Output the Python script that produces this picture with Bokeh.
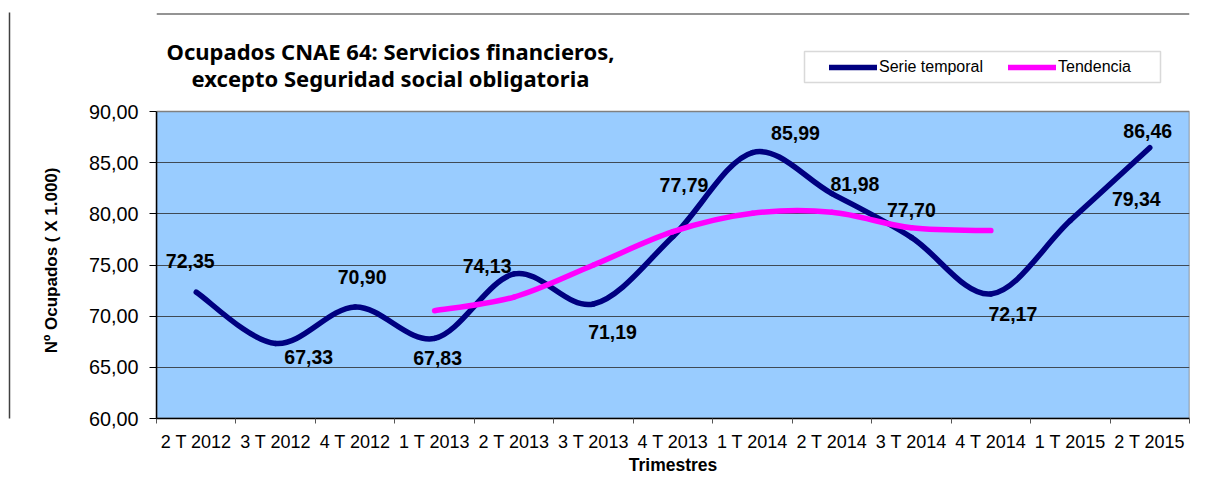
import numpy as np
from bokeh.plotting import figure
from bokeh.models import (Range1d, FixedTicker, Label, BoxAnnotation, Legend,
                          LegendItem, ColumnDataSource, Span, LinearAxis)
from bokeh.core.properties import value
from bokeh.embed import file_html
from bokeh.resources import INLINE

# ---------------- data ----------------
categories = ["2 T 2012", "3 T 2012", "4 T 2012", "1 T 2013", "2 T 2013",
              "3 T 2013", "4 T 2013", "1 T 2014", "2 T 2014", "3 T 2014",
              "4 T 2014", "1 T 2015", "2 T 2015"]
serie_temporal = [72.35, 67.33, 70.90, 67.83, 74.13, 71.19, 77.79,
                  85.99, 81.98, 77.70, 72.17, 79.34, 86.46]
tendencia_cats = ["1 T 2013", "2 T 2013", "3 T 2013", "4 T 2013",
                  "1 T 2014", "2 T 2014", "3 T 2014", "4 T 2014"]
tendencia = [70.53, 71.87, 75.00, 78.26, 80.05, 80.16, 78.63, 78.36]
y_ticks = [60, 65, 70, 75, 80, 85, 90]
y_tick_labels = ["60,00", "65,00", "70,00", "75,00", "80,00", "85,00", "90,00"]
title_line1 = "Ocupados CNAE 64: Servicios financieros,"
title_line2 = "excepto Seguridad social obligatoria"
y_title = "Nº Ocupados ( X 1.000)"
x_title = "Trimestres"

# label offsets (screen px, right / down) -- styling only
label_dx = [-6, 33, 7, 3, -27, 19, 11, 43, 23, 0, 22, 66, -2]
label_dy = [-31, 14, -30, 20, -8, 28, -51, -20, -10, -27, 20, -22, -17]

# ---------------- layout (picture pixels) ----------------
W, H = 1192, 477
FL, FR, FT, FB = 156, 1189, 12, 418     # frame edges
PT = 111                                 # top of the plot area (value 90)
XMIN, XMAX, YMIN, YMAX = -0.5, 12.5, 60, 90
Y_FRAME_TOP = YMAX + (PT - FT) * (YMAX - YMIN) / (FB - PT)


def px2x(px):
    return XMIN + (px - FL) * (XMAX - XMIN) / (FR - FL)


def py2y(py):
    return YMAX - (py - PT) * (YMAX - YMIN) / (FB - PT)


def smooth_segments(xs, ys):
    n = len(xs)
    d = dict(x0=[], y0=[], x1=[], y1=[], cx0=[], cy0=[], cx1=[], cy1=[])
    for i in range(n - 1):
        i0 = max(i - 1, 0)
        i3 = min(i + 2, n - 1)
        d["x0"].append(xs[i]); d["y0"].append(ys[i])
        d["x1"].append(xs[i + 1]); d["y1"].append(ys[i + 1])
        d["cx0"].append(xs[i] + (xs[i + 1] - xs[i0]) / 6)
        d["cy0"].append(ys[i] + (ys[i + 1] - ys[i0]) / 6)
        d["cx1"].append(xs[i + 1] - (xs[i3] - xs[i]) / 6)
        d["cy1"].append(ys[i + 1] - (ys[i3] - ys[i]) / 6)
    return ColumnDataSource(d)


idx = {c: i for i, c in enumerate(categories)}
xs = [idx[c] for c in categories]
txs = [idx[c] for c in tendencia_cats]

p = figure(width=W, height=H, x_range=Range1d(XMIN, XMAX),
           y_range=Range1d(YMIN, Y_FRAME_TOP),
           output_backend="svg", toolbar_location=None,
           min_border_left=FL, min_border_right=W - FR,
           min_border_top=FT, min_border_bottom=H - FB)

p.background_fill_color = "white"
p.border_fill_color = "white"
p.outline_line_color = None

# plot area
p.quad(left=[XMIN], right=[XMAX], bottom=[YMIN], top=[YMAX],
       fill_color="#99CCFF", line_color="#808080", line_width=1.5, level="image")

# grid
p.xgrid.visible = False
p.ygrid.ticker = FixedTicker(ticks=y_ticks[1:-1])
p.ygrid.grid_line_color = "#3f4a55"
p.ygrid.grid_line_width = 1

# y axis (label padded with no-break spaces so that it centres on the plot area)
ya = p.yaxis[0]
ya.bounds = (YMIN, YMAX)
ya.ticker = FixedTicker(ticks=y_ticks)
ya.major_label_overrides = {t: l for t, l in zip(y_ticks, y_tick_labels)}
ya.major_label_text_font = "Liberation Sans"
ya.major_label_text_font_size = "19.8px"
ya.major_label_text_color = "black"
ya.major_tick_out = 7
ya.major_tick_in = 0
ya.minor_tick_out = 0
ya.minor_tick_in = 0
ya.major_tick_line_color = "black"
ya.axis_line_color = "black"
ya.axis_line_width = 1.5
ya.major_label_standoff = 11
ya.axis_label = y_title + "\u00a0" * 19
ya.axis_label_text_font = "Liberation Sans"
ya.axis_label_text_font_style = "bold"
ya.axis_label_text_font_size = "17px"
ya.axis_label_text_color = "black"
ya.axis_label_standoff = 25

# spacer axis + outer chart border on the left
pad_axis = LinearAxis(ticker=FixedTicker(ticks=[]), axis_line_color=None,
                      major_tick_out=0, major_tick_in=0, minor_tick_out=0, minor_tick_in=0,
                      major_label_standoff=0, axis_label=" ",
                      axis_label_text_font_size="1px", axis_label_standoff=25)
border_axis = LinearAxis(ticker=FixedTicker(ticks=[]), axis_line_color="#404040",
                         axis_line_width=1.5,
                         major_tick_out=0, major_tick_in=0, minor_tick_out=0, minor_tick_in=0,
                         major_label_standoff=0)
p.add_layout(pad_axis, "left")
p.add_layout(border_axis, "left")

# x axis
xa = p.xaxis[0]
xa.ticker = FixedTicker(ticks=xs, minor_ticks=[i - 0.5 for i in range(len(categories) + 1)])
xa.major_label_overrides = {i: c for i, c in zip(xs, categories)}
xa.major_label_text_font = "Liberation Sans"
xa.major_label_text_font_size = "18px"
xa.major_label_text_color = "black"
xa.major_tick_out = 0
xa.major_tick_in = 0
xa.minor_tick_out = 5
xa.minor_tick_in = 0
xa.minor_tick_line_color = "#555555"
xa.axis_line_color = "black"
xa.axis_line_width = 1.5
xa.major_label_standoff = 8
xa.axis_label = x_title
xa.axis_label_text_font = "Liberation Sans"
xa.axis_label_text_font_style = "bold"
xa.axis_label_text_font_size = "17.5px"
xa.axis_label_text_color = "black"
xa.axis_label_standoff = 0

# outer chart border (top)
p.add_layout(Span(location=py2y(13.5), dimension="width", line_color="#707070",
                  line_width=1.5))

# series
src_s = smooth_segments(xs, serie_temporal)
r_s = p.bezier(x0="x0", y0="y0", x1="x1", y1="y1", cx0="cx0", cy0="cy0",
               cx1="cx1", cy1="cy1", source=src_s, line_color="#000080",
               line_width=5.5, line_cap="round")
src_t = smooth_segments(txs, tendencia)
r_t = p.bezier(x0="x0", y0="y0", x1="x1", y1="y1", cx0="cx0", cy0="cy0",
               cx1="cx1", cy1="cy1", source=src_t, line_color="#FF00FF",
               line_width=5.5, line_cap="round")

# data labels
lab_src = ColumnDataSource(dict(
    x=xs, y=serie_temporal,
    text=[f"{v:.2f}".replace(".", ",") for v in serie_temporal],
    dx=label_dx, dy=label_dy))
p.text(x="x", y="y", text="text", x_offset="dx", y_offset="dy", source=lab_src,
       text_align="center", text_baseline="middle", text_font=value("Liberation Sans"),
       text_font_style="bold", text_font_size="19.5px", text_color="black")

# legend box
p.add_layout(BoxAnnotation(left=px2x(804), right=px2x(1160), top=py2y(51), bottom=py2y(82),
                           fill_color="white", fill_alpha=1, line_color="#808080",
                           line_width=1.5))

legend = Legend(items=[LegendItem(label="Serie temporal", renderers=[r_s]),
                       LegendItem(label="Tendencia", renderers=[r_t])],
                orientation="horizontal",
                location=(829 - FL, FB - 77),
                padding=0, margin=0, spacing=25, label_standoff=2,
                glyph_width=48, glyph_height=20, label_height=20,
                label_text_font="Liberation Sans", label_text_font_size="16px",
                label_text_color="black",
                border_line_alpha=0, background_fill_alpha=0)
p.add_layout(legend)

# title
for txt, cx, by in [(title_line1, 390, 50.5), (title_line2, 390, 77.5)]:
    p.add_layout(Label(x=px2x(cx), y=py2y(by), text=txt, text_align="center",
                       text_baseline="alphabetic", text_font="Noto Sans",
                       text_font_style="bold", text_font_size="22px",
                       text_color="black"))

open("out.html", "w").write(file_html(p, INLINE))
